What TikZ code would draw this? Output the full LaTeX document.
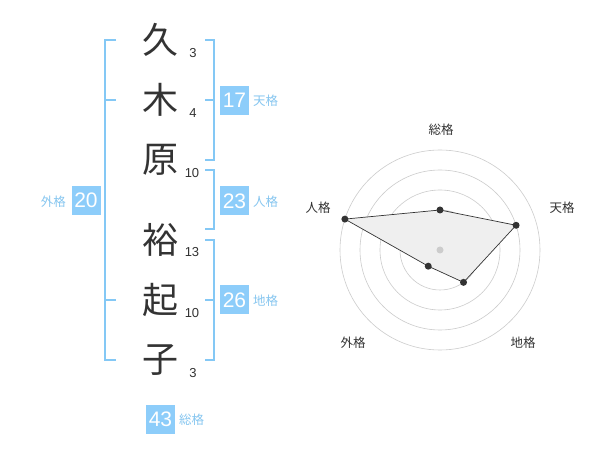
\documentclass[tikz,border=0pt]{standalone}
\usepackage{fontspec}
\setmainfont{Noto Sans CJK JP}
\newfontfamily\numfont{Liberation Sans}
\newfontfamily\kanjifont{Noto Sans CJK JP Light}
\begin{document}
\begin{tikzpicture}[x=1pt,y=-1pt,
  brk/.style={draw=bracketblue,line width=1.6pt},
  kanji/.style={font=\fontsize{36}{36}\selectfont,text=darktext,inner sep=0pt},
  stroke/.style={font=\numfont\fontsize{13}{13}\selectfont,text=darktext,inner sep=0pt},
  valbox/.style={fill=boxblue,text=white,minimum width=29pt,minimum height=29pt,inner sep=0pt,font=\numfont\fontsize{21}{21}\selectfont},
  lbl/.style={text=labelblue,font=\fontsize{12.5}{12.5}\selectfont,inner sep=0pt},
  ring/.style={draw=ringgray,line width=0.6pt},
  rlbl/.style={text=darktext,font=\fontsize{12.5}{12.5}\selectfont,inner sep=0pt},
  dot/.style={circle,fill=darktext,inner sep=0pt,minimum size=7pt}
]
\definecolor{bracketblue}{HTML}{84C8F5}
\definecolor{boxblue}{HTML}{8DCDFA}
\definecolor{labelblue}{HTML}{86C6F0}
\definecolor{darktext}{HTML}{333333}
\definecolor{ringgray}{HTML}{CCCCCC}
\definecolor{polyfill}{HTML}{EFEFEF}
\useasboundingbox (0,0) rectangle (600,470);
\fill[white] (0,0) rectangle (600,470);

% kanji
\node[kanji] (k1) at (160,40) {久};
\node[kanji] (k2) at (160,100) {木};
\node[kanji] (k3) at (160,160) {原};
\node[kanji] (k4) at (160,240) {裕};
\node[kanji] (k5) at (160,300) {起};
\node[kanji] (k6) at (160,360) {子};
% stroke counts
\node[stroke] (s1) at (193,53) {3};
\node[stroke] (s2) at (193,113) {4};
\node[stroke] (s3) at (192,173) {10};
\node[stroke] (s4) at (192,252) {13};
\node[stroke] (s5) at (192,313) {10};
\node[stroke] (s6) at (193,373) {3};

% left bracket (外格)
\draw[brk] (116,40) -- (105,40) -- (105,360) -- (116,360);
\draw[brk] (105,100) -- (116,100);
\draw[brk] (105,300) -- (116,300);
% right brackets
\draw[brk] (205,40) -- (214,40) -- (214,160) -- (205,160);
\draw[brk] (205,100) -- (214,100);
\draw[brk] (205,170) -- (214,170) -- (214,229) -- (205,229);
\draw[brk] (205,240) -- (214,240) -- (214,360) -- (205,360);
\draw[brk] (205,300) -- (214,300);

% value boxes
\node[valbox] (b17) at (234.5,100.5) {17};
\node[lbl,anchor=west] (l17) at (253,101) {天格};
\node[valbox] (b23) at (234.5,201) {23};
\node[lbl,anchor=west] (l23) at (253,202) {人格};
\node[valbox] (b26) at (234.5,300) {26};
\node[lbl,anchor=west] (l26) at (253,301) {地格};
\node[valbox] (b20) at (86,200.5) {20};
\node[lbl,anchor=east] (l20) at (66,202) {外格};
\node[valbox] (b43) at (160.5,419) {43};
\node[lbl,anchor=west] (l43) at (179,420) {総格};

% radar chart
\coordinate (c) at (440,250);
\foreach \r in {20,40,60,80,100} \draw[ring] (c) circle[radius=\r];
\path (c) ++(0,-40) coordinate (pS);
\path (c) ++({80*cos(18)},{-80*sin(18)}) coordinate (pT);
\path (c) ++({40*cos(54)},{40*sin(54)}) coordinate (pC);
\path (c) ++({-20*cos(54)},{20*sin(54)}) coordinate (pG);
\path (c) ++({-100*cos(18)},{-100*sin(18)}) coordinate (pJ);
\draw[fill=polyfill,draw=darktext,line width=0.7pt] (pS) -- (pT) -- (pC) -- (pG) -- (pJ) -- cycle;
\node[circle,fill=ringgray,inner sep=0pt,minimum size=7pt] (cdot) at (c) {};
\foreach \p in {pS,pT,pC,pG,pJ} \node[dot] at (\p) {};
\node[rlbl] (rS) at (441,130) {総格};
\node[rlbl] (rT) at (562,208) {天格};
\node[rlbl] (rJ) at (318,208) {人格};
\node[rlbl] (rG) at (353,343) {外格};
\node[rlbl] (rC) at (523,343) {地格};
\end{tikzpicture}
\end{document}
